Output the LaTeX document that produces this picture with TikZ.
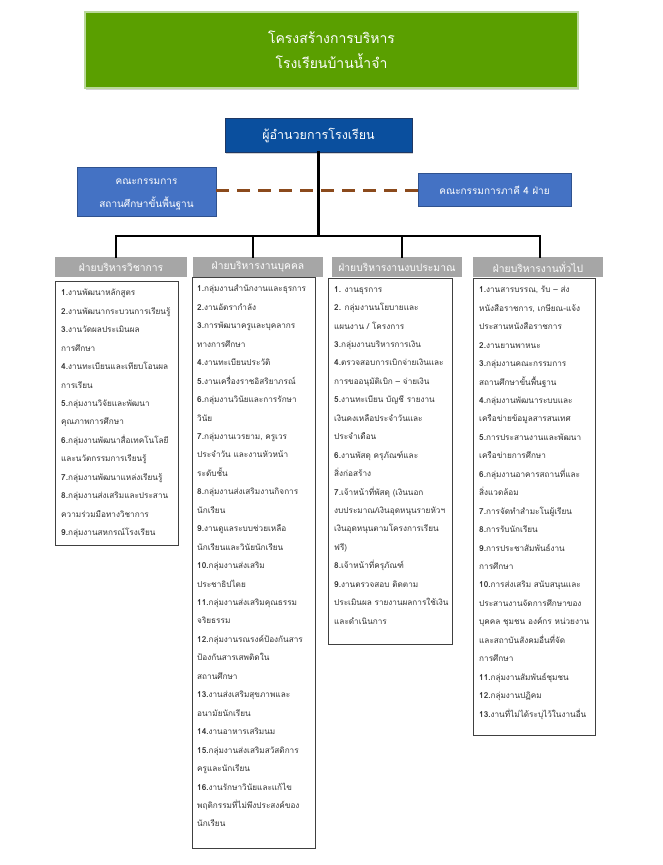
\documentclass[tikz,border=0pt]{standalone}
\usepackage{fontspec}
\newfontfamily\thai[Script=Thai]{Loma}
\usetikzlibrary{shadows}
\definecolor{titlegreen}{HTML}{5A9F00}
\definecolor{titleedge}{HTML}{B9D89A}
\definecolor{dirblue}{HTML}{0A4F9E}
\definecolor{diredge}{HTML}{1F3864}
\definecolor{combblue}{HTML}{4472C4}
\definecolor{combedge}{HTML}{2F528F}
\definecolor{hdrgray}{HTML}{A6A6A6}
\definecolor{dashbrown}{HTML}{8B4A1C}
\definecolor{txtgray}{HTML}{333333}
\newcommand{\itemno}[1]{\textbf{#1}}
\tikzset{
  titlebox/.style={draw=titleedge, line width=1.2pt, fill=titlegreen, text=white, align=center,
    font=\thai\fontsize{14}{25}\selectfont, inner sep=0pt,
    drop shadow={shadow xshift=1pt, shadow yshift=-1.5pt, fill=black!35}},
  dirbox/.style={draw=diredge, line width=0.8pt, fill=dirblue, text=white, align=center,
    font=\thai\fontsize{12.5}{16}\selectfont, inner sep=0pt,
    drop shadow={shadow xshift=1pt, shadow yshift=-1.5pt, fill=black!35}},
  combox/.style={draw=combedge, line width=0.8pt, fill=combblue, text=white, align=center,
    font=\thai\fontsize{10}{23}\selectfont, inner sep=0pt},
  comtext/.style={text=white, align=center, font=\thai\fontsize{10}{23}\selectfont, inner sep=0pt},
  hdrbox/.style={fill=hdrgray, text=white, align=center, minimum width=130pt, minimum height=20pt,
    font=\thai\fontsize{10.3}{12}\selectfont, inner sep=0pt},
  colbox/.style={draw=black!75, line width=0.8pt, fill=white, inner sep=0pt,
    drop shadow={shadow xshift=0.8pt, shadow yshift=-0.8pt, fill=black!25}},
  coltext/.style={anchor=north west, align=left, inner sep=0pt, text=txtgray,
    font=\thai\fontsize{8.2}{18.45}\selectfont},
  bus/.style={line width=2.6pt, black, line join=miter, line cap=rect},
  dashlink/.style={line width=3pt, dashbrown, dash pattern=on 13pt off 8pt}
}
\begin{document}
\begin{tikzpicture}[x=1pt,y=-1pt]
\useasboundingbox (0,0) rectangle (663,865);
\fill[white] (0,0) rectangle (663,865);

% title
\node[titlebox, minimum width=493pt, minimum height=76pt] (title) at (331.5,50) {โครงสร้างการบริหาร\\โรงเรียนบ้านน้ำจำ};

% director and committees
\node[dirbox, minimum width=187pt, minimum height=34pt] (dir) at (318.5,135) {ผู้อำนวยการโรงเรียน};
\node[combox, minimum width=139pt, minimum height=49pt] (lc) at (146.5,191.5) {};
\node[comtext] (lct) at ([yshift=-3pt]lc.center) {คณะกรรมการ\\สถานศึกษาขั้นพื้นฐาน};
\node[combox, minimum width=153pt, minimum height=33pt] (rc) at (494.5,190) {คณะกรรมการภาคี 4 ฝ่าย};

% headers
\node[hdrbox, minimum width=132pt] (h1) at (121,267) {ฝ่ายบริหารวิชาการ};
\node[hdrbox] (h2) at (258,267) {ฝ่ายบริหารงานบุคคล};
\node[hdrbox] (h3) at (397,267) {ฝ่ายบริหารงานงบประมาณ};
\node[hdrbox] (h4) at (538,267) {ฝ่ายบริหารงานทั่วไป};

% bus coordinates
\coordinate (b1) at (116,236);
\coordinate (b2) at (253,236);
\coordinate (b3) at (402,236);
\coordinate (b4) at (540,236);

\draw[dashlink] (lc.east |- rc.west) -- (rc.west);
\draw[bus] (dir.south) -- (dir.south |- b1);
\draw[bus] (b1 |- h1.north) -- (b1) -- (b4) -- (b4 |- h4.north);
\draw[bus] (b2) -- (b2 |- h2.north);
\draw[bus] (b3) -- (b3 |- h3.north);

% column boxes
\node[colbox, minimum width=123pt, minimum height=264pt, anchor=north west] (c1) at (55,281) {};
\node[colbox, minimum width=123pt, minimum height=571pt, anchor=north west] (c2) at (192,277) {};
\node[colbox, minimum width=124pt, minimum height=366pt, anchor=north west] (c3) at (328,278) {};
\node[colbox, minimum width=122pt, minimum height=457pt, anchor=north west] (c4) at (473,278) {};

\node[coltext] (t1) at ([xshift=6pt,yshift=-8pt]c1.north west) {%
\itemno{1.}งานพัฒนาหลักสูตร\\
\itemno{2.}งานพัฒนากระบวนการเรียนรู้\\
\itemno{3.}งานวัดผลประเมินผล\\
การศึกษา\\
\itemno{4.}งานทะเบียนและเทียบโอนผล\\
การเรียน\\
\itemno{5.}กลุ่มงานวิจัยและพัฒนา\\
คุณภาพการศึกษา\\
\itemno{6.}กลุ่มงานพัฒนาสื่อเทคโนโลยี\\
และนวัตกรรมการเรียนรู้\\
\itemno{7.}กลุ่มงานพัฒนาแหล่งเรียนรู้\\
\itemno{8.}กลุ่มงานส่งเสริมและประสาน\\
ความร่วมมือทางวิชาการ\\
\itemno{9.}กลุ่มงานสหกรณ์โรงเรียน};

\node[coltext] (t2) at ([xshift=5pt,yshift=-8pt]c2.north west) {%
\itemno{1.}กลุ่มงานสำนักงานและธุรการ\\
\itemno{2.}งานอัตรากำลัง\\
\itemno{3.}การพัฒนาครูและบุคลากร\\
ทางการศึกษา\\
\itemno{4.}งานทะเบียนประวัติ\\
\itemno{5.}งานเครื่องราชอิสริยาภรณ์\\
\itemno{6.}กลุ่มงานวินัยและการรักษา\\
วินัย\\
\itemno{7.}กลุ่มงานเวรยาม, ครูเวร\\
ประจำวัน และงานหัวหน้า\\
ระดับชั้น\\
\itemno{8.}กลุ่มงานส่งเสริมงานกิจการ\\
นักเรียน\\
\itemno{9.}งานดูแลระบบช่วยเหลือ\\
นักเรียนและวินัยนักเรียน\\
\itemno{10.}กลุ่มงานส่งเสริม\\
ประชาธิปไตย\\
\itemno{11.}กลุ่มงานส่งเสริมคุณธรรม\\
จริยธรรม\\
\itemno{12.}กลุ่มงานรณรงค์ป้องกันสาร\\
ป้องกันสารเสพติดใน\\
สถานศึกษา\\
\itemno{13.}งานส่งเสริมสุขภาพและ\\
อนามัยนักเรียน\\
\itemno{14.}งานอาหารเสริมนม\\
\itemno{15.}กลุ่มงานส่งเสริมสวัสดิการ\\
ครูและนักเรียน\\
\itemno{16.}งานรักษาวินัยและแก้ไข\\
พฤติกรรมที่ไม่พึงประสงค์ของ\\
นักเรียน};

\node[coltext] (t3) at ([xshift=6pt,yshift=-8pt]c3.north west) {%
\itemno{1.} งานธุรการ\\
\itemno{2.} กลุ่มงานนโยบายและ\\
แผนงาน / โครงการ\\
\itemno{3.}กลุ่มงานบริหารการเงิน\\
\itemno{4.}ตรวจสอบการเบิกจ่ายเงินและ\\
การขออนุมัติเบิก – จ่ายเงิน\\
\itemno{5.}งานทะเบียน บัญชี รายงาน\\
เงินคงเหลือประจำวันและ\\
ประจำเดือน\\
\itemno{6.}งานพัสดุ ครุภัณฑ์และ\\
สิ่งก่อสร้าง\\
\itemno{7.}เจ้าหน้าที่พัสดุ (เงินนอก\\
งบประมาณ/เงินอุดหนุนรายหัวฯ\\
เงินอุดหนุนตามโครงการเรียน\\
ฟรี)\\
\itemno{8.}เจ้าหน้าที่ครุภัณฑ์\\
\itemno{9.}งานตรวจสอบ ติดตาม\\
ประเมินผล รายงานผลการใช้เงิน\\
และดำเนินการ};

\node[coltext] (t4) at ([xshift=6pt,yshift=-8pt]c4.north west) {%
\itemno{1.}งานสารบรรณ, รับ – ส่ง\\
หนังสือราชการ, เกษียณ-แจ้ง\\
ประสานหนังสือราชการ\\
\itemno{2.}งานยานพาหนะ\\
\itemno{3.}กลุ่มงานคณะกรรมการ\\
สถานศึกษาขั้นพื้นฐาน\\
\itemno{4.}กลุ่มงานพัฒนาระบบและ\\
เครือข่ายข้อมูลสารสนเทศ\\
\itemno{5.}การประสานงานและพัฒนา\\
เครือข่ายการศึกษา\\
\itemno{6.}กลุ่มงานอาคารสถานที่และ\\
สิ่งแวดล้อม\\
\itemno{7.}การจัดทำสำมะโนผู้เรียน\\
\itemno{8.}การรับนักเรียน\\
\itemno{9.}การประชาสัมพันธ์งาน\\
การศึกษา\\
\itemno{10.}การส่งเสริม สนับสนุนและ\\
ประสานงานจัดการศึกษาของ\\
บุคคล ชุมชน องค์กร หน่วยงาน\\
และสถาบันสังคมอื่นที่จัด\\
การศึกษา\\
\itemno{11.}กลุ่มงานสัมพันธ์ชุมชน\\
\itemno{12.}กลุ่มงานปฏิคม\\
\itemno{13.}งานที่ไม่ได้ระบุไว้ในงานอื่น};
\end{tikzpicture}
\end{document}
